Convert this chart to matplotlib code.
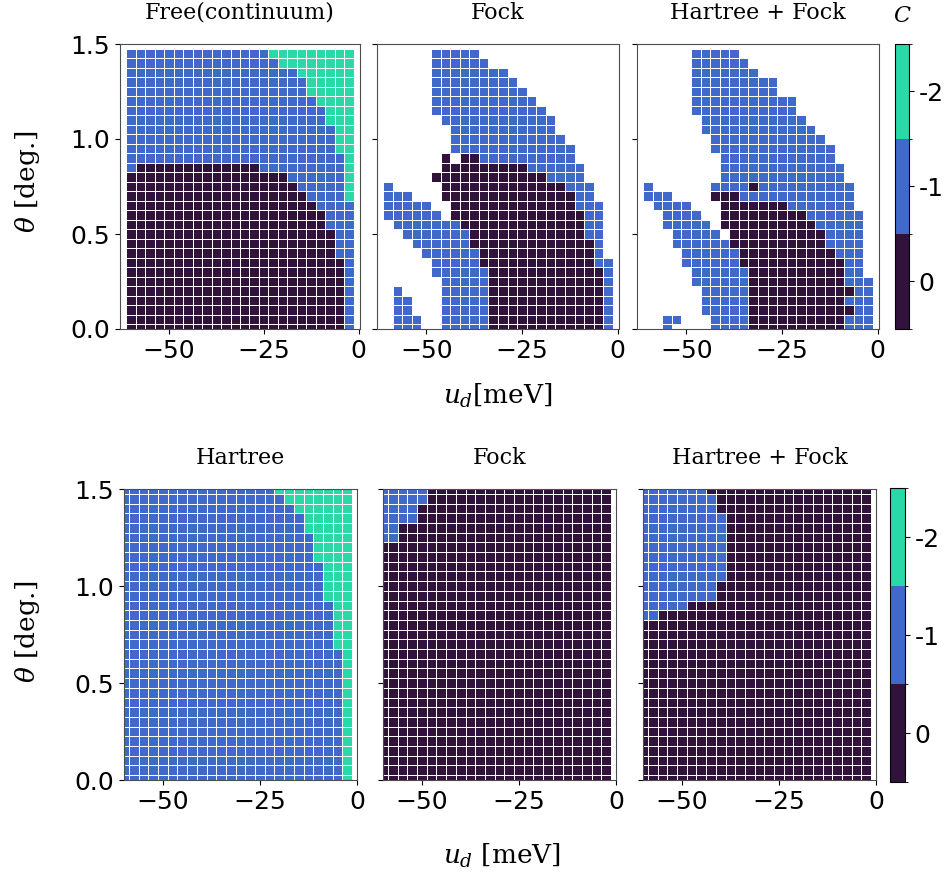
import numpy as np
import matplotlib
matplotlib.use("Agg")
import matplotlib.pyplot as plt
from matplotlib.colors import ListedColormap, BoundaryNorm
from matplotlib.cm import ScalarMappable

# grid of the phase diagrams
u_d = [-60.0, -57.5, -55.0, -52.5, -50.0, -47.5, -45.0, -42.5, -40.0, -37.5, -35.0, -32.5,
       -30.0, -27.5, -25.0, -22.5, -20.0, -17.5, -15.0, -12.5, -10.0, -7.5, -5.0, -2.5]
theta_top = [0.00, 0.05, 0.10, 0.15, 0.20, 0.25, 0.30, 0.35, 0.40, 0.45, 0.50, 0.55, 0.60, 0.65, 0.70,
             0.75, 0.80, 0.85, 0.90, 0.95, 1.00, 1.05, 1.10, 1.15, 1.20, 1.25, 1.30, 1.35, 1.40, 1.45]
theta_bot = theta_top + [1.50]

# |C| per cell, run-length coded "value:count", rows listed from the largest theta down
# '.' = no point
free_cont = ["1:15 2:9", "1:16 2:8", "1:18 2:6", "1:19 2:5", "1:19 2:5", "1:20 2:4",
             "1:21 2:3", "1:21 2:3", "1:22 2:2", "1:22 2:2", "1:22 2:2", "1:23 2:1",
             "1:1 0:13 1:9 2:1", "0:17 1:6 2:1", "0:18 1:5 2:1", "0:19 1:4 2:1",
             "0:20 1:4", "0:21 1:3", "0:21 1:3", "0:22 1:2", "0:22 1:2", "0:22 1:2",
             "0:23 1:1", "0:23 1:1", "0:23 1:1", "0:23 1:1", "0:23 1:1", "0:23 1:1",
             "0:23 1:1", "0:23 1:1"]

fock_top = [".:5 1:5 .:14", ".:5 1:6 .:13", ".:5 1:8 .:11", ".:5 1:9 .:10", ".:5 1:10 .:9",
            ".:5 1:11 .:8", ".:5 1:12 .:7", ".:6 1:12 .:6", ".:7 1:11 .:6", ".:7 1:12 .:5",
            ".:7 1:13 .:4", ".:6 0:1 .:1 0:2 1:10 .:4", ".:6 0:9 1:6 .:3", ".:5 0:12 1:4 .:3",
            "1:1 .:5 0:13 1:3 .:2", "1:3 .:3 0:14 1:2 .:2", "1:5 .:2 0:13 1:3 .:1",
            "1:6 .:1 0:14 1:2 .:1", ".:1 1:7 0:13 1:2 .:1", ".:2 1:7 0:12 1:2 .:1",
            ".:3 1:6 0:13 1:1 .:1", ".:4 1:6 0:12 1:1 .:1", ".:5 1:5 0:12 1:2",
            ".:5 1:6 0:12 1:1", ".:6 1:5 0:12 1:1", ".:1 1:1 .:4 1:5 0:12 1:1",
            ".:1 1:2 .:3 1:5 0:12 1:1", ".:1 1:2 .:3 1:5 0:12 1:1",
            ".:1 1:3 .:2 1:5 0:12 1:1", ".:1 1:3 .:2 1:5 0:12 1:1"]

hf_top = [".:5 1:5 .:14", ".:5 1:6 .:13", ".:5 1:7 .:12", ".:5 1:9 .:10", ".:5 1:9 .:10",
          ".:5 1:11 .:8", ".:5 1:11 .:8", ".:6 1:11 .:7", ".:6 1:12 .:6", ".:7 1:12 .:5",
          ".:7 1:13 .:4", ".:8 1:12 .:4", ".:8 1:13 .:3", ".:8 1:13 .:3",
          "1:1 .:6 1:4 0:1 1:10 .:2", "1:3 .:4 0:3 1:12 .:2", ".:1 1:4 .:3 0:7 1:7 .:2",
          ".:2 1:4 .:2 0:9 1:6 .:1", ".:2 1:5 .:1 0:10 1:5 .:1", ".:3 1:5 .:1 0:10 1:4 .:1",
          ".:3 1:6 0:10 1:4 .:1", ".:4 1:6 0:10 1:3 .:1", ".:4 1:6 0:11 1:2 .:1",
          ".:5 1:6 0:10 1:2 .:1", ".:5 1:6 0:10 1:3", ".:6 1:5 0:11 1:2",
          ".:6 1:5 0:10 1:3", ".:6 1:5 0:11 1:2", ".:2 1:2 .:3 1:4 0:10 1:3",
          ".:2 1:1 .:4 1:4 0:10 1:3"]

hartree_bot = ["1:16 2:8", "1:17 2:7", "1:18 2:6", "1:19 2:5", "1:19 2:5", "1:20 2:4",
               "1:20 2:4", "1:20 2:4", "1:21 2:3", "1:21 2:3", "1:21 2:3", "1:21 2:3",
               "1:22 2:2", "1:22 2:2", "1:22 2:2", "1:22 2:2", "1:22 2:2"] + ["1:23 2:1"] * 14

fock_bot = ["1:5 0:19", "1:5 0:19", "1:4 0:20", "1:4 0:20", "1:2 0:22", "1:2 0:22"] + ["0:24"] * 25

hf_bot = ["1:7 0:17", "1:8 0:16", "1:8 0:16"] + ["1:9 0:15"] * 7 + \
         ["1:8 0:16", "1:8 0:16", "1:5 0:19", "1:2 0:22"] + ["0:24"] * 17

top_titles = ["Free(continuum)", "Fock", "Hartree + Fock"]
bot_titles = ["Hartree", "Fock", "Hartree + Fock"]
cbar_ticks = [0, 1, 2]
cbar_labels = ["0", "-1", "-2"]


def expand(rows):
    out = []
    for row in rows[::-1]:
        vals = []
        for tok in row.split():
            v, n = tok.split(":")
            vals += [np.nan if v == "." else float(v)] * int(n)
        out.append(vals)
    return np.ma.masked_invalid(np.array(out))


def edges(c):
    c = np.asarray(c)
    mid = (c[1:] + c[:-1]) / 2
    return np.concatenate([[c[0] - (mid[0] - c[0])], mid, [c[-1] + (c[-1] - mid[-1])]])


cmap = ListedColormap(["#30123b", "#4169cc", "#29d9a8"])
norm = BoundaryNorm([-0.5, 0.5, 1.5, 2.5], cmap.N)

plt.rcParams["font.size"] = 18
plt.rcParams["mathtext.fontset"] = "dejavuserif"
serif = "DejaVu Serif"

fig = plt.figure(figsize=(9.5, 8.8), dpi=100)

W, H = 950.0, 880.0


def box(x0, x1, y0, y1):
    return [x0 / W, 1 - y1 / H, (x1 - x0) / W, (y1 - y0) / H]


top_boxes = [box(120, 360, 44, 329), box(377, 619, 44, 329), box(637, 879, 44, 329)]
bot_boxes = [box(124, 357, 489, 780), box(383, 616, 489, 780), box(643, 876, 489, 780)]

xe = edges(u_d)
for i, (grid, title) in enumerate(zip([free_cont, fock_top, hf_top], top_titles)):
    ax = fig.add_axes(top_boxes[i])
    ax.pcolormesh(xe, edges(theta_top), expand(grid), cmap=cmap, norm=norm,
                  edgecolors="white", linewidth=0.6)
    ax.set_xlim(-62.875, 0.375)
    ax.set_ylim(0, 1.5)
    ax.set_xticks([-50, -25, 0])
    ax.set_yticks([0, 0.5, 1.0, 1.5])
    if i > 0:
        ax.set_yticklabels([])
    ax.set_title(title, family=serif, fontsize=16, pad=18)
    for s in ax.spines.values():
        s.set_color("0.3")

for i, (grid, title) in enumerate(zip([hartree_bot, fock_bot, hf_bot], bot_titles)):
    ax = fig.add_axes(bot_boxes[i])
    ax.pcolormesh(xe, edges(theta_bot), expand(grid), cmap=cmap, norm=norm,
                  edgecolors="white", linewidth=0.6)
    ax.set_xlim(-60, 0)
    ax.set_ylim(0, 1.5)
    ax.set_xticks([-50, -25, 0])
    ax.set_yticks([0, 0.5, 1.0, 1.5])
    if i > 0:
        ax.set_yticklabels([])
    ax.set_title(title, family=serif, fontsize=16, pad=18)
    for s in ax.spines.values():
        s.set_color("0.3")

sm = ScalarMappable(norm=norm, cmap=cmap)
cax1 = fig.add_axes(box(895, 909, 44, 329))
cb1 = fig.colorbar(sm, cax=cax1, ticks=cbar_ticks)
cb1.ax.set_yticklabels(cbar_labels)
cax1.set_title("$C$", fontsize=16, pad=16)

cax2 = fig.add_axes(box(890, 905, 488, 782))
cb2 = fig.colorbar(sm, cax=cax2, ticks=cbar_ticks)
cb2.ax.set_yticklabels(cbar_labels)

fig.text(498 / W, 1 - 396 / H, "$u_d$[meV]", family=serif, fontsize=19, ha="center", va="center")
fig.text(502 / W, 1 - 856 / H, "$u_d$ [meV]", family=serif, fontsize=19, ha="center", va="center")
fig.text(27 / W, 1 - 182 / H, r"$\theta$ [deg.]", family=serif, fontsize=19, rotation=90,
         ha="center", va="center")
fig.text(27 / W, 1 - 632 / H, r"$\theta$ [deg.]", family=serif, fontsize=19, rotation=90,
         ha="center", va="center")

fig.savefig("out.png", dpi=100)
